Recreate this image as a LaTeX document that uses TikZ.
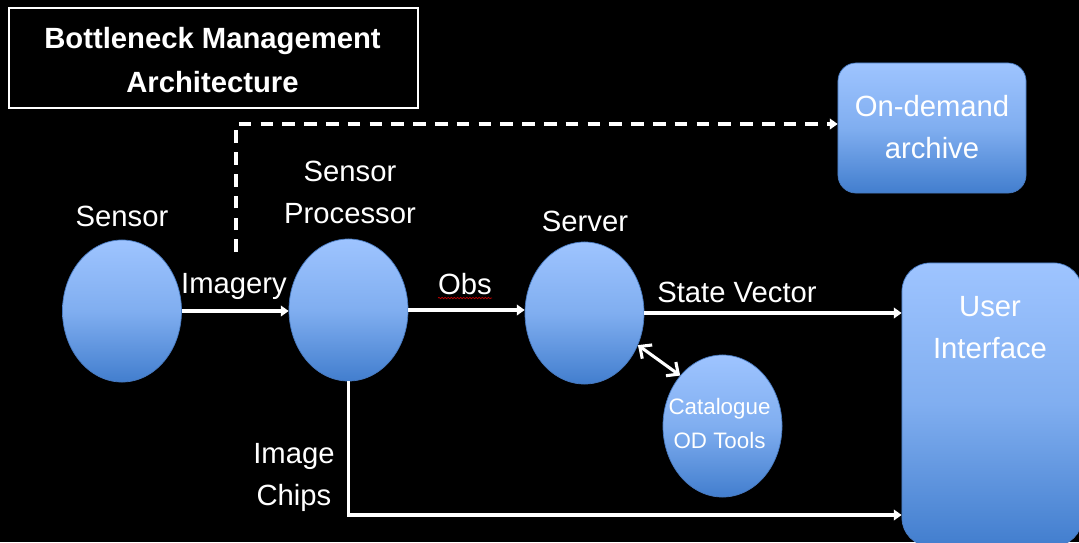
\documentclass[tikz,border=0pt]{standalone}
\usepackage{fontspec}
\setmainfont{Liberation Sans}
\usetikzlibrary{arrows.meta,shapes.geometric,decorations.pathmorphing}
\definecolor{ltop}{RGB}{158,196,255}
\definecolor{lmid}{RGB}{128,174,240}
\definecolor{lbot}{RGB}{66,126,206}
\definecolor{edgeblue}{RGB}{72,122,192}
\begin{document}
\begin{tikzpicture}[x=0.025cm,y=-0.025cm,
  blob/.style={ellipse, minimum width=2.975cm, minimum height=3.55cm, inner sep=0pt,
    draw=edgeblue, line width=0.5pt, top color=ltop, bottom color=lbot, middle color=lmid},
  bluebox/.style={rectangle, inner sep=0pt, draw=edgeblue, line width=0.5pt,
    top color=ltop, bottom color=lbot, middle color=lmid},
  lbl/.style={text=white, font=\fontsize{20.8}{29.8}\selectfont, align=center, anchor=base, inner sep=0pt},
  smalllbl/.style={text=white, font=\fontsize{15.9}{23.5}\selectfont, align=center, anchor=base, inner sep=0pt},
  arr/.style={draw=white, line width=2.2pt, -{Triangle[length=5.5pt,width=7.5pt]}},
  dasharr/.style={draw=white, line width=2.2pt, dash pattern=on 9pt off 6.5pt, -{Triangle[length=5.5pt,width=7.5pt]}},
  dblarr/.style={draw=white, line width=2.2pt, {Straight Barb[length=6.5pt,width=12pt]}-{Straight Barb[length=6.5pt,width=12pt]}},
]
\fill[black] (0,0) rectangle (1079,542);
\useasboundingbox (0,0) rectangle (1079,542);

% title
\node[draw=white, line width=1.4pt, minimum width=10.225cm, minimum height=2.5cm, inner sep=0pt] (titlebox) at (213.5,58) {};
\node[lbl, font=\bfseries\fontsize{20.8}{31.2}\selectfont] (title) at (212.5,92) {Bottleneck Management\\Architecture};

% ellipses
\node[blob] (sensor) at (122,311) {};
\node[blob] (proc) at (348.5,310) {};
\node[blob] (server) at (584.5,313) {};
\node[blob] (cat) at (722.5,426) {};

% boxes
\node[bluebox, rounded corners=0.45cm, minimum width=4.7cm, minimum height=3.25cm] (archive) at (932,128) {};
\node[bluebox, rounded corners=0.7cm, minimum width=4.5cm, minimum height=7.075cm] (ui) at (992,404.5) {};

% labels (anchor base = baseline of last line)
\node[lbl] (lsensor) at (122,226) {Sensor};
\node[lbl] (lproc) at (350,223) {Sensor\\Processor};
\node[lbl] (lserver) at (585,231) {Server};
\node[lbl] (limagery) at (234,293) {Imagery};
\node[lbl] (lobs) at (465,294) {Obs};
\node[lbl] (lstate) at (737,302) {State Vector};
\node[lbl] (lchips) at (294,505) {Image\\Chips};
\node[smalllbl] (lcat) at (719.5,448) {Catalogue\\OD Tools};
\node[lbl] (larchive) at (932,158) {On-demand\\archive};
\node[lbl] (lui) at (990,358) {User\\Interface};

% red spell-check squiggle under Obs
\coordinate (sqa) at (438,298);
\coordinate (sqb) at (492,298);
\draw[red!75!black, line width=0.5pt, decorate, decoration={snake, amplitude=0.5pt, segment length=2.2pt}] (sqa) -- (sqb);

% connectors
\draw[arr] (sensor.east) -- (sensor.east -| proc.west);
\draw[arr] (proc.east) -- (proc.east -| server.west);
\draw[arr] (server.east) -- (server.east -| ui.west);
\draw[dblarr] (server.-31) -- (cat.130);

\coordinate (dashstart) at (236,252);
\coordinate (dashcorner) at (236,124);
\draw[dasharr] (dashstart) -- (dashcorner) -- (dashcorner -| archive.west);

\coordinate (chipcorner) at (348.5,515);
\draw[arr] (proc.south) -- (chipcorner) -- (chipcorner -| ui.west);
\end{tikzpicture}
\end{document}
